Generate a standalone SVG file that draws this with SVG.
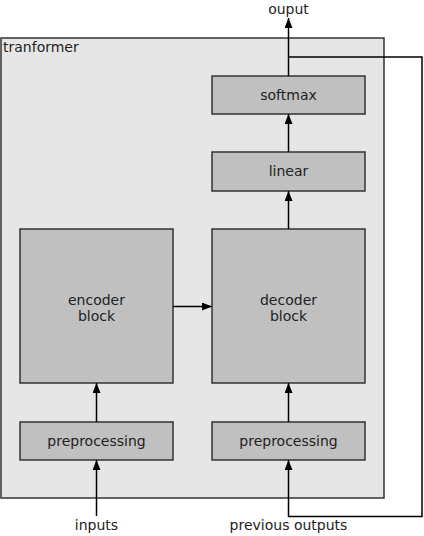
<svg xmlns="http://www.w3.org/2000/svg" width="424" height="536" viewBox="0 0 424 536">
<defs>
<marker id="ah" viewBox="0 0 10 8" refX="10" refY="4" markerWidth="10" markerHeight="8" markerUnits="userSpaceOnUse" orient="auto">
<path d="M0,0 L10,4 L0,8 z" fill="#000"/>
</marker>
</defs>
<style>
.box{fill:#c0c0c0;stroke:#333;stroke-width:1.5}
.outer{fill:#e6e6e6;stroke:#333;stroke-width:1.5}
.t{font-family:"DejaVu Sans",sans-serif;font-size:14px;fill:#222;text-anchor:middle}
.c{fill:none;stroke:#000;stroke-width:1.5}
</style>
<rect width="424" height="536" fill="#fff"/>
<g id="transformer">
<rect class="outer" x="1" y="38" width="383" height="460"/>
<text class="t" x="3" y="52" style="text-anchor:start">tranformer</text>
</g>
<g id="softmax">
<rect class="box" x="212" y="76" width="153" height="38"/>
<text class="t" x="288.5" y="100">softmax</text>
</g>
<g id="linear">
<rect class="box" x="212" y="152" width="153" height="39"/>
<text class="t" x="288.5" y="176">linear</text>
</g>
<g id="encoder">
<rect class="box" x="20" y="229" width="153" height="154"/>
<text class="t" x="96.5" y="305">encoder</text>
<text class="t" x="96.5" y="321">block</text>
</g>
<g id="decoder">
<rect class="box" x="212" y="229" width="153" height="154"/>
<text class="t" x="288.5" y="305">decoder</text>
<text class="t" x="288.5" y="321">block</text>
</g>
<g id="pre-enc">
<rect class="box" x="20" y="422" width="153" height="38"/>
<text class="t" x="96.5" y="446">preprocessing</text>
</g>
<g id="pre-dec">
<rect class="box" x="212" y="422" width="153" height="38"/>
<text class="t" x="288.5" y="446">preprocessing</text>
</g>
<g id="labels">
<text class="t" x="288.5" y="14">ouput</text>
<text class="t" x="96.5" y="530">inputs</text>
<text class="t" x="288.5" y="530">previous outputs</text>
</g>
<g id="connectors">
<line class="c" x1="96.5" y1="516" x2="96.5" y2="460" marker-end="url(#ah)"/>
<line class="c" x1="96.5" y1="422" x2="96.5" y2="383" marker-end="url(#ah)"/>
<line class="c" x1="288.5" y1="422" x2="288.5" y2="383" marker-end="url(#ah)"/>
<line class="c" x1="173" y1="306.5" x2="212" y2="306.5" marker-end="url(#ah)"/>
<line class="c" x1="288.5" y1="229" x2="288.5" y2="191" marker-end="url(#ah)"/>
<line class="c" x1="288.5" y1="152" x2="288.5" y2="114" marker-end="url(#ah)"/>
<line class="c" x1="288.5" y1="76" x2="288.5" y2="18" marker-end="url(#ah)"/>
<polyline class="c" points="288.5,57 422,57 422,516.5 288.5,516.5 288.5,460" marker-end="url(#ah)"/>
</g>
</svg>
